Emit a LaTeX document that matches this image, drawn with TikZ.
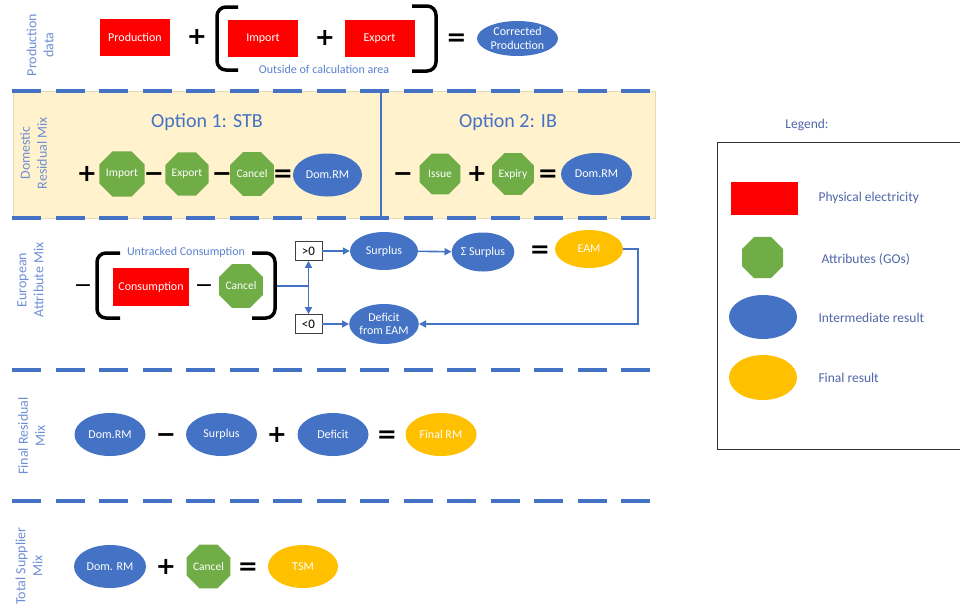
\documentclass[tikz,border=0pt]{standalone}
\usepackage{fontspec}
\setmainfont{Carlito}
\newfontfamily\opfont{DejaVu Sans}
\usetikzlibrary{shapes.geometric,arrows.meta}
\definecolor{myblue}{HTML}{4472C4}
\definecolor{mygreen}{HTML}{70AD47}
\definecolor{myyellow}{HTML}{FFC000}
\definecolor{myred}{HTML}{FF0000}
\definecolor{mybeige}{HTML}{FFF2CC}
\definecolor{beigeedge}{HTML}{E6D9B8}
\definecolor{lblblue}{HTML}{6E8FD6}
\definecolor{notblue}{HTML}{5A82CF}
\definecolor{legtext}{HTML}{4F67A8}
\newcommand\mynodefont{\fontsize{12}{13.5}\selectfont}
\begin{document}
\begin{tikzpicture}[x=1pt,y=-1pt,
  phys/.style={rectangle, fill=myred, text=white, inner sep=0, minimum width=70pt, minimum height=37pt, font=\mynodefont},
  ell/.style={ellipse, fill=myblue, text=white, inner sep=0, minimum width=71pt, minimum height=43pt, align=center, font=\mynodefont},
  fin/.style={ell, fill=myyellow},
  oct/.style={regular polygon, regular polygon sides=8, fill=mygreen, text=white, inner sep=0, minimum size=46pt, font=\fontsize{11.5}{13}\selectfont},
  op/.style={inner sep=0, text=black, font=\opfont\bfseries\fontsize{24}{24}\selectfont},
  thinop/.style={inner sep=0, text=black, font=\opfont\fontsize{22}{22}\selectfont},
  sect/.style={rotate=90, align=center, text=lblblue, font=\fontsize{14}{17}\selectfont},
  titl/.style={text=myblue, font=\fontsize{20}{22}\selectfont},
  note/.style={text=notblue, font=\fontsize{12}{13}\selectfont},
  legtxt/.style={text=legtext, font=\fontsize{13.5}{15}\selectfont},
  sepline/.style={draw=myblue, line width=3.5pt, dash pattern=on 29pt off 14.5pt},
  brk/.style={draw=black, line width=3.5pt, rounded corners=9pt},
  flowline/.style={draw=myblue, line width=1.6pt},
  flow/.style={flowline, -{Triangle[length=7pt,width=7pt]}},
  cond/.style={draw=black!75, fill=white, line width=0.8pt, minimum width=27pt, minimum height=19pt, inner sep=0, font=\fontsize{13}{13}\selectfont}
]
\useasboundingbox (0,0) rectangle (960,606);
\fill[white] (0,0) rectangle (960,606);

% ---------- domestic band background and separators ----------
\filldraw[fill=mybeige, draw=beigeedge, line width=0.8pt] (13,91) rectangle (655,218);
\draw[sepline] (12,91) -- (656,91);
\draw[sepline] (12,218) -- (656,218);
\draw[sepline] (12,370) -- (656,370);
\draw[sepline] (12,501) -- (656,501);
\draw[myblue, line width=2.5pt] (381,91) -- (381,218);

% ---------- section labels ----------
\node[sect] (lprod) at (40,45) {Production\\data};
\node[sect] (ldom) at (33.5,153) {Domestic\\Residual Mix};
\node[sect] (leur) at (30.5,280) {European\\Attribute Mix};
\node[sect] (lfin) at (31.5,436) {Final Residual\\Mix};
\node[sect] (ltsm) at (29,566) {Total Supplier\\Mix};

% ---------- production data ----------
\node[phys] (prod) at (135,37) {Production};
\node[op] (p1) at (197,37) {+};
\node[phys] (imp) at (263,38.5) {Import};
\node[op] (p2) at (325,38) {+};
\node[phys] (exp) at (379.5,38.5) {Export};
\node[op] (eq1) at (456.5,38) {\vphantom{+}=};
\node[ell, minimum width=81pt, minimum height=35pt] (corr) at (517.5,38.5) {Corrected\\Production};
\node[note] (outs) at (324,69) {Outside of calculation area};
\draw[brk] (238,7) -- (217,7) -- (217,70) -- (238,70);
\draw[brk] (412,6) -- (436,6) -- (436,71) -- (412,71);

% ---------- domestic residual mix ----------
\node[titl] (opt1) at (207,122) {Option 1: STB};
\node[titl] (opt2) at (508,122) {Option 2: IB};
\node[op] (d1) at (87,174) {+};
\node[oct] (dimp) at (122,174) {Import};
\node[op] (d2) at (154,174) {\vphantom{+}−};
\node[oct] (dexp) at (187,174) {Export};
\node[op] (d3) at (222,174) {\vphantom{+}−};
\node[oct] (dcan) at (252,174) {Cancel};
\node[op] (d4) at (283,174) {\vphantom{+}=};
\node[ell, minimum width=69pt] (drm1) at (327.5,175) {Dom.RM};
\node[op] (i1) at (403,174) {\vphantom{+}−};
\node[oct, minimum size=44pt] (iss) at (440,174) {Issue};
\node[op] (i2) at (477,174) {+};
\node[oct, minimum size=45pt] (expi) at (513,174) {Expiry};
\node[op] (i3) at (548,174) {\vphantom{+}=};
\node[ell, minimum height=42pt] (drm2) at (596.5,174) {Dom.RM};

% ---------- european attribute mix ----------
\node[thinop] (e1) at (83,286) {\vphantom{+}−};
\draw[brk] (120,253) -- (97,253) -- (97,318) -- (120,318);
\node[note] (untr) at (186,252) {Untracked Consumption};
\node[phys, minimum width=76pt, minimum height=38pt] (cons) at (151,287) {Consumption};
\node[thinop] (e2) at (204,286) {\vphantom{+}−};
\node[oct, minimum size=47pt] (ecan) at (241,286) {Cancel};
\draw[brk] (252,253) -- (275,253) -- (275,318) -- (252,318);
\coordinate (bro) at (276.75,286);
\coordinate (jct) at (308.5,286);
\node[cond] (gt) at (308.5,251) {>0};
\node[cond] (lt) at (308.5,324) {<0};
\draw[flowline] (bro) -- (jct);
\draw[flow] (jct) -- (gt.south);
\draw[flow] (jct) -- (lt.north);
\node[ell, minimum width=68pt, minimum height=38pt] (surp) at (384,251) {Surplus};
\node[ell, minimum width=62pt, minimum height=39pt] (ssur) at (483,252) {Σ Surplus};
\node[op] (e3) at (540,250) {\vphantom{+}=};
\node[fin, minimum width=68pt, minimum height=38pt] (eam) at (589,249) {EAM};
\node[ell, minimum width=67pt, minimum height=40pt] (defe) at (384,324) {Deficit\\from EAM};
\draw[flow] (gt) -- (surp);
\draw[flow] (surp) -- (ssur);
\draw[flow] (lt) -- (defe);
\coordinate (rt) at (638,287);
\draw[flow] (eam.east) -- (eam.east -| rt) -- (defe.east -| rt) -- (defe.east);

% ---------- final residual mix ----------
\node[ell] (frm) at (110,434.5) {Dom.RM};
\node[op] (f1) at (166,434.5) {\vphantom{+}−};
\node[ell] (fsur) at (221.5,434.5) {Surplus};
\node[op] (f2) at (277,434.5) {+};
\node[ell] (fdef) at (333,434.5) {Deficit};
\node[op] (f3) at (387,434.5) {\vphantom{+}=};
\node[fin] (ffin) at (441,434.5) {Final RM};

% ---------- total supplier mix ----------
\node[ell, minimum width=72pt] (trm) at (110,566.5) {Dom. RM};
\node[op] (t1) at (166,566.5) {+};
\node[oct, minimum size=46.5pt] (tcan) at (208.5,566.5) {Cancel};
\node[op] (t2) at (248,566.5) {\vphantom{+}=};
\node[fin, minimum width=70pt] (tsm) at (303,566.5) {TSM};

% ---------- legend ----------
\node[legtxt] (leg) at (807,125) {Legend:};
\draw[black!80, line width=1pt] (717,142) rectangle (963,449);
\node[phys, minimum width=67pt, minimum height=33pt] (lgred) at (764.5,198.5) {};
\node[legtxt, anchor=west] (lgt1) at (815,198) {Physical electricity};
\node[oct, minimum size=44.4pt] (lggreen) at (762.5,257.5) {};
\node[legtxt, anchor=west] (lgt2) at (818,259) {Attributes (GOs)};
\node[ell, minimum width=68pt, minimum height=44pt] (lgblue) at (763,317) {};
\node[legtxt, anchor=west] (lgt3) at (815,318) {Intermediate result};
\node[fin, minimum width=68pt, minimum height=45pt] (lgyel) at (763,377.5) {};
\node[legtxt, anchor=west] (lgt4) at (815,378) {Final result};
\end{tikzpicture}
\end{document}
